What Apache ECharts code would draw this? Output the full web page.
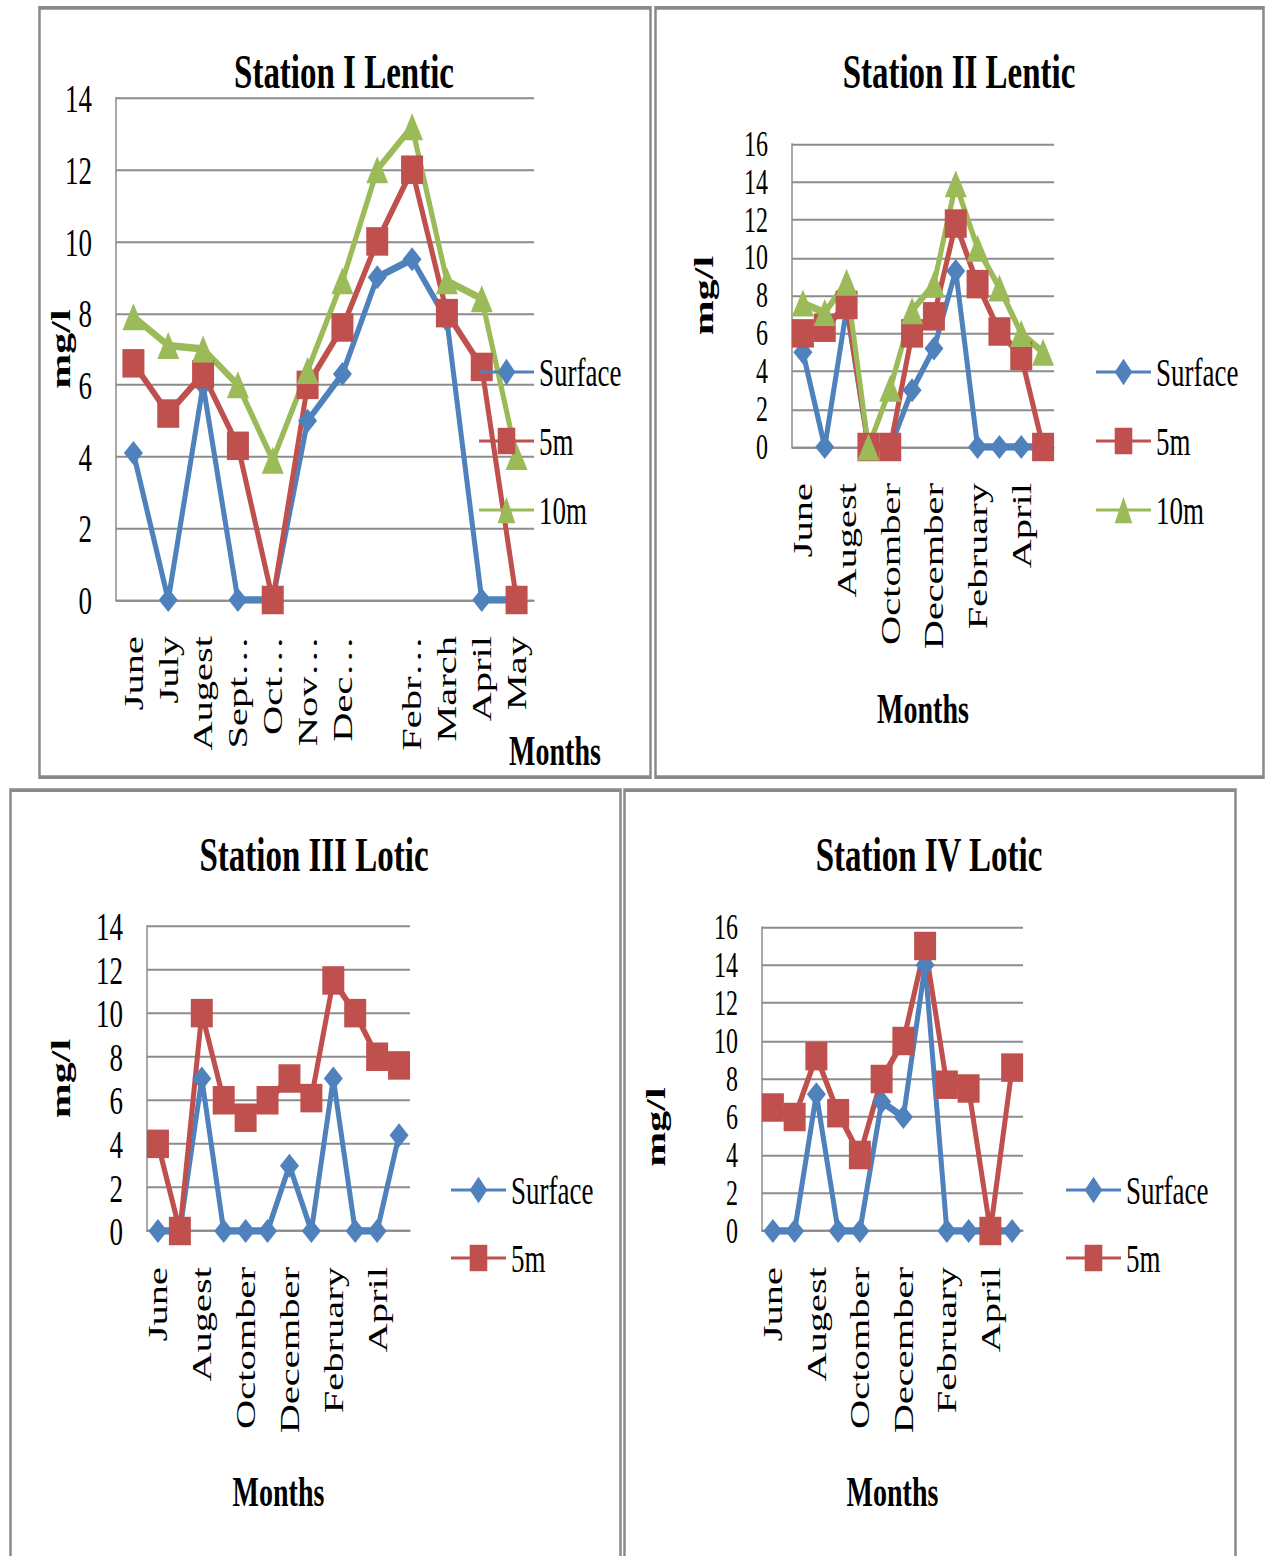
<!DOCTYPE html>
<html><head><meta charset="utf-8">
<script src="https://cdn.jsdelivr.net/npm/echarts@6/dist/echarts.min.js"></script>
<style>
html,body{margin:0;padding:0;background:#fff;overflow:hidden;}
#wrap{width:1265px;height:1556px;overflow:hidden;background:#fff;}
#chart{width:1265px;height:1038px;transform:scaleY(1.5);transform-origin:0 0;}
</style></head><body><div id="wrap"><div id="chart"></div></div>
<script>
// ---- data ----
const months = ['June','July','Augest','September','Octomber','November','December','January','February','March','April','May'];
const station1Labels = ['June','July','Augest','Sept…','Oct…','Nov…','Dec…','','Febr…','March','April','May'];
const yTicks14 = [0, 14, 2];
const yTicks16 = [0, 16, 2];

const s1Surface = [4.1, 0, 6.0, 0, 0, 5.0, 6.3, 9.0, 9.5, 7.8, 0, 0];
const s1m5      = [6.6, 5.2, 6.3, 4.3, 0, 6.0, 7.6, 10.0, 12.0, 8.0, 6.5, 0];
const s1m10     = [7.9, 7.1, 7.0, 6.0, 3.9, 6.4, 8.9, 12.0, 13.2, 8.9, 8.4, 4.0];

const s2Surface = [5.0, 0, 7.3, 0, 0, 3.0, 5.2, 9.3, 0, 0, 0, 0];
const s2m5      = [6.0, 6.3, 7.5, 0, 0, 6.0, 6.9, 11.8, 8.6, 6.1, 4.8, 0];
const s2m10     = [7.6, 7.1, 8.7, 0, 3.1, 7.2, 8.6, 13.9, 10.5, 8.4, 6.0, 5.0];

const s3Surface = [0, 0, 7.0, 0, 0, 0, 3.0, 0, 7.0, 0, 0, 4.4];
const s3m5      = [4.0, 0, 10.0, 6.0, 5.2, 6.0, 7.0, 6.1, 11.5, 10.0, 8.0, 7.6];

const s4Surface = [0, 0, 7.2, 0, 0, 6.8, 6.0, 14.0, 0, 0, 0, 0];
const s4m5      = [6.5, 6.0, 9.2, 6.2, 4.0, 8.0, 10.0, 15.0, 7.7, 7.5, 0, 8.6];

const titles = ['Station I Lentic','Station II Lentic','Station III Lotic','Station IV Lotic'];
const seriesNames = ['Surface','5m','10m'];

// ---- style / layout ----
const SY = 1.5; // vertical stretch of the picture
const FONT = 'Liberation Serif, serif';
const BLUE = '#4F81BD', RED = '#C0504D', GREEN = '#9BBB59';
const GRIDC = '#8c8c8c';
const u = v => v / SY;

const grids = [
  {left:116, top:u(98),  width:418, height:u(600-98)},
  {left:792, top:u(144), width:262, height:u(447-144)},
  {left:147, top:u(926), width:263, height:u(1231-926)},
  {left:762, top:u(927), width:261, height:u(1231-927)}
];

function xAxis(i, data, interval, name, gap){
  return {
    type:'category', gridIndex:i, data:data, boundaryGap:true,
    axisLine:{show:true, lineStyle:{color:GRIDC, width:1.3}},
    axisTick:{show:false},
    axisLabel:{rotate:90, interval:interval, margin:24, fontSize:27, fontFamily:FONT, color:'#000', lineHeight:20},
    name:name, nameLocation:'middle', nameGap:gap,
    nameTextStyle:{fontSize:28, fontWeight:'bold', fontFamily:FONT, color:'#000'}
  };
}
function yAxis(i, ticks, gap, fs, pad){
  return {
    type:'value', gridIndex:i, min:ticks[0], max:ticks[1], interval:ticks[2],
    axisLine:{show:true, lineStyle:{color:GRIDC, width:1.5}},
    axisTick:{show:false},
    splitLine:{show:true, lineStyle:{color:GRIDC, width:1.3}},
    axisLabel:{margin:24, fontSize:fs, fontFamily:FONT, color:'#000', lineHeight:fs - 4,
      showMinLabel:true, showMaxLabel:true, hideOverlap:false},
    name:'mg/l', nameLocation:'middle', nameRotate:90, nameGap:gap, nameMoveOverlap:false,
    nameTextStyle:{fontSize:28, fontWeight:'bold', fontFamily:FONT, color:'#000', padding:pad || 0}
  };
}
const SYM = {
  Surface:{symbol:'diamond', size:[19,16], color:BLUE},
  '5m':{symbol:'rect', size:[22,19], color:RED},
  '10m':{symbol:'triangle', size:[22,18], color:GREEN}
};
function line(name, data, i){
  const s = SYM[name];
  return {
    type:'line', name:name, data:data, xAxisIndex:i, yAxisIndex:i,
    symbol:s.symbol, symbolSize:s.size, showAllSymbol:true,
    lineStyle:{width:5, color:s.color}, itemStyle:{color:s.color},
    emphasis:{disabled:true}
  };
}
function legend(names, left, top, gap){
  return {
    data:names, orient:'vertical', left:left, top:top, padding:0,
    itemWidth:55, itemHeight:22, itemGap:gap,
    selectedMode:false,
    textStyle:{fontSize:27, fontFamily:FONT, color:'#000', lineHeight:27}
  };
}
function txt(str, x, y, size){
  return {type:'text', x:x, y:y, style:{text:str, font:'bold '+size+'px '+FONT, fill:'#000',
    textAlign:'center', textVerticalAlign:'middle', align:'center', verticalAlign:'middle'}};
}
function box(x0, y0, x1, y1){
  return {type:'rect', shape:{x:x0, y:u(y0), width:x1-x0, height:u(y1-y0)},
    style:{fill:'none', stroke:'#8a8a8a', lineWidth:2.5}, silent:true};
}

const option = {
  backgroundColor:'#fff',
  animation:false,
  grid:grids,
  xAxis:[
    xAxis(0, station1Labels, 0, '', 0),
    xAxis(1, months, 1, 'Months', u(692)-u(447)-3),
    xAxis(2, months, 1, 'Months', u(1475)-u(1231)-3),
    xAxis(3, months, 1, 'Months', u(1475)-u(1231)-3)
  ],
  yAxis:[
    yAxis(0, yTicks14, 41, 27),
    yAxis(1, yTicks16, 74, 24),
    yAxis(2, yTicks14, 72, 27),
    yAxis(3, yTicks16, 92, 24, [0, 64, 0, 0])
  ],
  legend:[
    legend(seriesNames, 478, u(372)-13.5, u(69)-27),
    legend(seriesNames, 1095, u(372)-13.5, u(69)-27),
    legend(seriesNames.slice(0,2), 450, u(1190)-13.5, u(68)-27),
    legend(seriesNames.slice(0,2), 1065, u(1190)-13.5, u(68)-27)
  ],
  series:[
    line('Surface', s1Surface, 0), line('5m', s1m5, 0), line('10m', s1m10, 0),
    line('Surface', s2Surface, 1), line('5m', s2m5, 1), line('10m', s2m10, 1),
    line('Surface', s3Surface, 2), line('5m', s3m5, 2),
    line('Surface', s4Surface, 3), line('5m', s4m5, 3)
  ],
  graphic:[
    box(39.5, 8, 650.5, 777),
    box(655.5, 8, 1263.5, 777),
    box(10.5, 790, 620.5, 1700),
    box(624.5, 790, 1235.5, 1700),
    txt(titles[0], 344, u(72), 33),
    txt(titles[1], 959, u(72), 33),
    txt(titles[2], 314, u(855), 33),
    txt(titles[3], 929, u(855), 33),
    txt('Months', 555, u(751), 28)
  ]
};
const chart = echarts.init(document.getElementById('chart'), null, {renderer:'svg'});
chart.setOption(option);
</script></body></html>
